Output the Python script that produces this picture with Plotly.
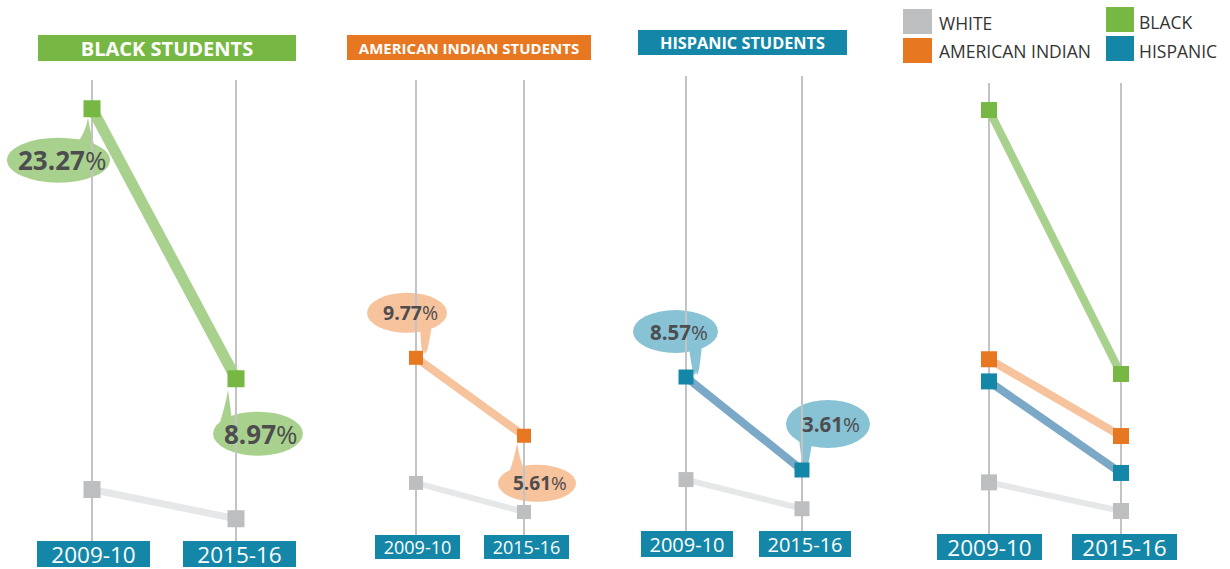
import plotly.graph_objects as go

W, H = 1230, 569

# ---------------- data ----------------
years = ["2009-10", "2015-16"]
white = [3.10, 1.55]
black = [23.27, 8.97]
american_indian = [9.77, 5.61]
hispanic = [8.57, 3.61]

panel_titles = ["BLACK STUDENTS", "AMERICAN INDIAN STUDENTS", "HISPANIC STUDENTS"]
legend_labels = ["WHITE", "AMERICAN INDIAN", "BLACK", "HISPANIC"]

series = {"white": white, "black": black, "amind": american_indian, "hisp": hispanic}

# ---------------- styles ----------------
GREEN, ORANGE, TEAL, GREY = "#76b843", "#e87722", "#1486a8", "#bcbec0"
STYLE = {  # marker colour, line colour, bubble colour
    "white": (GREY, "#e6e7e8", "#e6e7e8"),
    "black": (GREEN, "#a9d18e", "#a9d18e"),
    "amind": (ORANGE, "#f7c39d", "#f7c39d"),
    "hisp": (TEAL, "#7aa8c6", "#88c2d5"),
}
FONT = "Open Sans"
TXT = "#4d4d4f"

panels = [
    dict(keys=["black"], gx=(92, 236), top=80, bot=553, zero=548.0, scale=18.88, pad=(0.62, 0.5),
         lw=11, wlw=7, ms=17,
         ybox=dict(dx=(1.5, 3.5), cy=554, w=113, h=26, fs=22.5),
         title=dict(cx=167, cy=48, w=258, h=26, bg=GREEN, fs=20),
         bubbles=[
             dict(key="black", i=0, ell=(-85, 18, 29, 74), tip=(-4, 9), bl=(-16, 36), br=(4, 42), fs=26),
             dict(key="black", i=1, ell=(-23, 67, 33, 77), tip=(-8, 11), bl=(-18, 50), br=(-4, 42), fs=26),
         ]),
    dict(keys=["amind"], gx=(416, 524), top=80, bot=545, zero=541.0, scale=18.75, pad=(0.5, 0.52),
         lw=8, wlw=6, ms=14,
         ybox=dict(dx=(1.5, 2.0), cy=547, w=85, h=24, fs=18),
         title=dict(cx=469, cy=47.5, w=244, h=25, bg=ORANGE, fs=15),
         bubbles=[
             dict(key="amind", i=0, ell=(-49, 31, -65, -25), tip=(8, -8), bl=(4, -30), br=(16, -33), fs=19.5),
             dict(key="amind", i=1, ell=(-26, 52, 29, 66), tip=(-7, 7), bl=(-16, 40), br=(0, 34), fs=19),
         ]),
    dict(keys=["hisp"], gx=(686, 802), top=76, bot=545, zero=537.7, scale=18.75, pad=(0.5, 0.65),
         lw=8, wlw=6, ms=15,
         ybox=dict(dx=(1.0, 3.0), cy=544, w=92, h=26, fs=20),
         title=dict(cx=742.5, cy=42.5, w=209, h=25, bg=TEAL, fs=16.3),
         bubbles=[
             dict(key="hisp", i=0, ell=(-53, 32, -67, -24), tip=(10, -6), bl=(3, -29), br=(16, -32), fs=20.5),
             dict(key="hisp", i=1, ell=(-16, 68, -70, -22), tip=(3, -7), bl=(-3, -32), br=(10, -27), fs=20.5),
         ]),
    dict(keys=["hisp", "amind", "black"], gx=(989, 1121), top=83, bot=545, zero=539.6, scale=18.46,
         pad=(0.5, 0.5), lw=8, wlw=6, ms=16,
         ybox=dict(dx=(0.5, 3.5), cy=546.5, w=105, h=26, fs=22.5),
         title=None, bubbles=[]),
]

fig = go.Figure()
layout = dict(width=W, height=H, margin=dict(l=0, r=0, t=0, b=0),
              paper_bgcolor="white", plot_bgcolor="rgba(0,0,0,0)",
              font=dict(family=FONT, color=TXT), showlegend=False)
shapes, annotations = [], []

for n, p in enumerate(panels, start=1):
    xa, ya = f"x{n}", f"y{n}"
    unit = p["gx"][1] - p["gx"][0]
    x_left = p["gx"][0] - p["pad"][0] * unit
    x_right = p["gx"][1] + p["pad"][1] * unit
    layout[f"xaxis{n}"] = dict(domain=[x_left / W, x_right / W], type="category",
                               categoryorder="array", categoryarray=years,
                               range=[-p["pad"][0], 1 + p["pad"][1]], anchor=ya,
                               showgrid=True, gridcolor="#c3c3c3", gridwidth=2,
                               showticklabels=False, ticks="", zeroline=False, showline=False,
                               fixedrange=True)
    layout[f"yaxis{n}"] = dict(domain=[1 - p["bot"] / H, 1 - p["top"] / H],
                               range=[(p["zero"] - p["bot"]) / p["scale"], (p["zero"] - p["top"]) / p["scale"]],
                               anchor=xa, showgrid=False, zeroline=False, showticklabels=False,
                               showline=False, ticks="", fixedrange=True)

    for key in ["white"] + p["keys"]:
        mc, lc, _ = STYLE[key]
        fig.add_trace(go.Scatter(
            x=years, y=series[key], xaxis=xa, yaxis=ya, mode="lines+markers",
            line=dict(color=lc, width=p["wlw"] if key == "white" else p["lw"]),
            marker=dict(symbol="square", size=p["ms"], color=mc, line=dict(width=0)),
            hoverinfo="skip"))

    # year label boxes
    yb = p["ybox"]
    for j, yr in enumerate(years):
        annotations.append(dict(xref=xa, yref="paper", x=yr, y=1 - yb["cy"] / H, xshift=yb["dx"][j],
                                text=yr, showarrow=False, bgcolor=TEAL, width=yb["w"], height=yb["h"],
                                borderpad=0, borderwidth=0, xanchor="center", yanchor="middle",
                                font=dict(color="white", size=yb["fs"], family=FONT)))

    # title boxes
    t = p["title"]
    if t:
        annotations.append(dict(xref="paper", yref="paper", x=t["cx"] / W, y=1 - t["cy"] / H,
                                text=f"<b>{panel_titles[n - 1]}</b>", showarrow=False, bgcolor=t["bg"],
                                width=t["w"], height=t["h"], borderpad=0, borderwidth=0,
                                xanchor="center", yanchor="middle",
                                font=dict(color="white", size=t["fs"], family=FONT)))

    # speech bubbles anchored on data points (offsets in px, y downward -> flipped)
    for b in p["bubbles"]:
        val = series[b["key"]][b["i"]]
        yr = years[b["i"]]
        bc = STYLE[b["key"]][2]
        ex0, ex1, ey0, ey1 = b["ell"]
        shapes.append(dict(type="circle", xref=xa, yref=ya, xsizemode="pixel", ysizemode="pixel",
                           xanchor=yr, yanchor=val, x0=ex0, x1=ex1, y0=-ey1, y1=-ey0,
                           fillcolor=bc, line=dict(width=0), layer="below"))
        tx, ty = b["tip"]
        blx, bly = b["bl"]
        brx, bry = b["br"]
        path = (f"M {blx},{-bly} Q {tx - 2},{-(ty + 14)} {tx},{-ty} "
                f"Q {tx + 2},{-(ty + 14)} {brx},{-bry} Z")
        shapes.append(dict(type="path", xref=xa, yref=ya, xsizemode="pixel", ysizemode="pixel",
                           xanchor=yr, yanchor=val, path=path,
                           fillcolor=bc, line=dict(width=0), layer="below"))
        cx, cy = (ex0 + ex1) / 2, (ey0 + ey1) / 2
        annotations.append(dict(xref=xa, yref=ya, x=yr, y=val, xshift=cx + 3, yshift=-cy,
                                text=f"<b>{val:.2f}</b>%", showarrow=False,
                                xanchor="center", yanchor="middle",
                                font=dict(size=b["fs"], color=TXT, family=FONT)))

# legend (top right)
legend_items = [  # label, colour key, square px box, text x, text y
    (legend_labels[0], "white", (903, 932, 9, 34), 937, 23),
    (legend_labels[1], "amind", (903, 932, 38, 63), 937, 51),
    (legend_labels[2], "black", (1106, 1134, 7, 32), 1137, 22),
    (legend_labels[3], "hisp", (1106, 1134, 36, 61), 1137, 51),
]
for lab, key, (x0, x1, y0, y1), tx, ty in legend_items:
    shapes.append(dict(type="rect", xref="paper", yref="paper", x0=x0 / W, x1=x1 / W,
                       y0=1 - y1 / H, y1=1 - y0 / H, fillcolor=STYLE[key][0], line=dict(width=0)))
    annotations.append(dict(xref="paper", yref="paper", x=tx / W, y=1 - ty / H, text=lab,
                            showarrow=False, xanchor="left", yanchor="middle",
                            font=dict(size=17.5, color="#333333", family=FONT)))

layout["shapes"] = shapes
layout["annotations"] = annotations
fig.update_layout(**layout)
fig.write_html("out.html", config={"displayModeBar": False, "staticPlot": True},
               post_script="document.body.style.margin='0';document.body.style.overflow='hidden';")
